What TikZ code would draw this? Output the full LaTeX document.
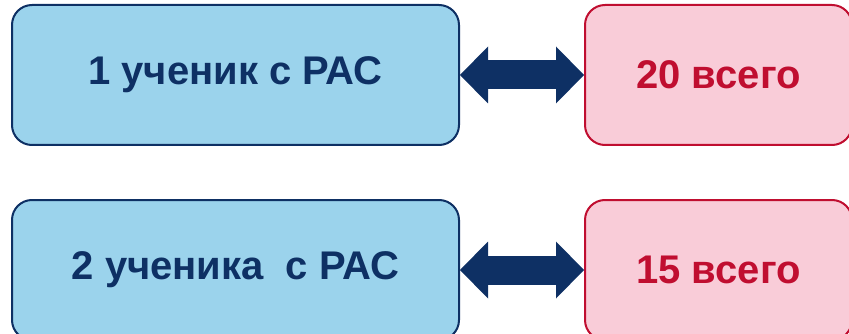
\documentclass[tikz,border=0pt]{standalone}
\usepackage{fontspec}
\setmainfont{Liberation Sans}
\usetikzlibrary{arrows.meta}

\definecolor{rasblue}{RGB}{155,211,236}
\definecolor{rasnavy}{RGB}{14,48,100}
\definecolor{raspink}{RGB}{249,204,216}
\definecolor{rasred}{RGB}{192,14,48}

\begin{document}
\begin{tikzpicture}[x=1pt,y=-1pt]
  \useasboundingbox (0,0) rectangle (849,334);
  \begin{scope}[every node/.style={rectangle,rounded corners=20pt,line width=2pt,font=\fontsize{40}{42}\bfseries\selectfont,minimum height=140pt}]
    \begin{scope}[every node/.append style={draw=rasnavy,fill=rasblue,text=rasnavy,minimum width=447pt}]
      \node (s1) at (235.5,75) {1 ученик с РАС};
      \node (s2) at (235.5,270) {2 ученика\ \ с РАС};
    \end{scope}
    \begin{scope}[every node/.append style={draw=rasred,fill=raspink,text=rasred,minimum width=267pt}]
      \node (t1) at (718.5,75) {20 всего};
      \node (t2) at (718.5,270) {15 всего};
    \end{scope}
  \end{scope}

  \path [color=rasnavy, line width=29pt, {Triangle[length=28pt,width=57pt,line width=0pt,fill=rasnavy]}-{Triangle[length=28pt,width=57pt,line width=0pt,fill=rasnavy]}] (s1) edge (t1);
  \path [color=rasnavy, line width=29pt, {Triangle[length=28pt,width=57pt,line width=0pt,fill=rasnavy]}-{Triangle[length=28pt,width=57pt,line width=0pt,fill=rasnavy]}] (s2) edge (t2);
\end{tikzpicture}
\end{document}
